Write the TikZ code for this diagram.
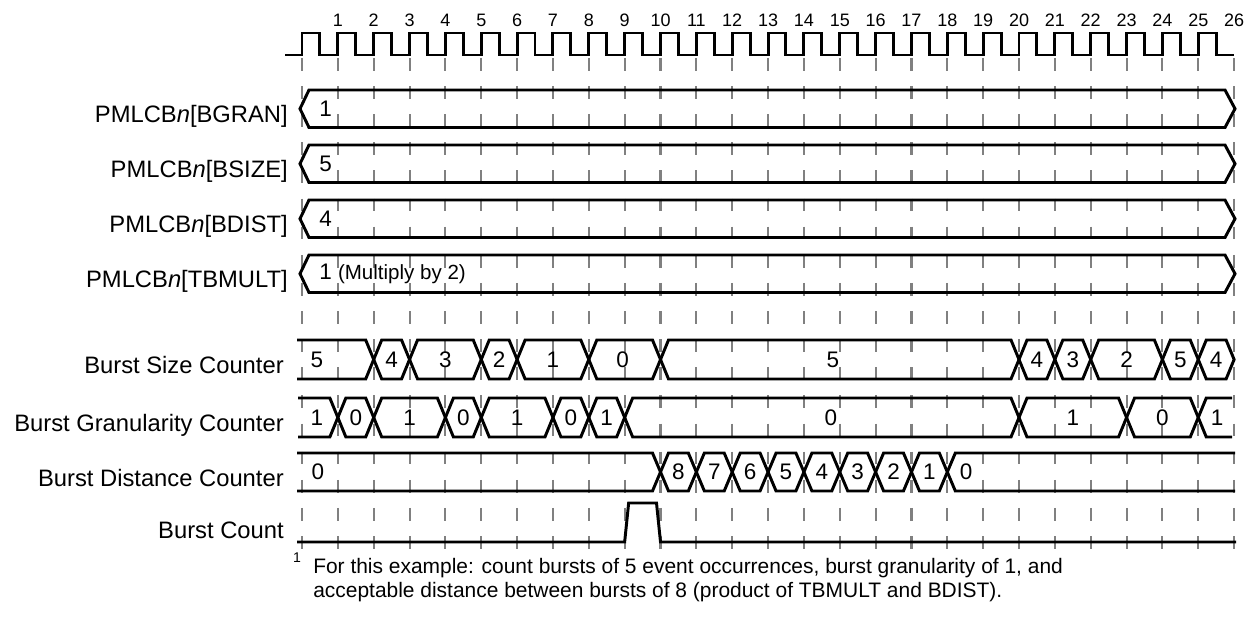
\documentclass[tikz,border=0pt]{standalone}
\usepackage{fontspec}
\setmainfont{Liberation Sans}
\usetikzlibrary{positioning}

\begin{document}
\begin{tikzpicture}[
  x=0.025cm, y=-0.025cm,
  declare function={gx(\k)=302+35.85*\k;},
  sig/.style={line width=2.1pt, line join=miter},
  gridln/.style={draw=gray, line width=1.5pt, dash pattern=on 9pt off 11pt},
  lbl/.style={anchor=base east, inner sep=0pt, font=\fontsize{16.9}{20}\selectfont},
  val/.style={inner sep=0pt, font=\fontsize{16}{19}\selectfont},
  clk/.style={inner sep=0pt, font=\fontsize{12.8}{15}\selectfont},
  note/.style={anchor=base west, inner sep=0pt, font=\fontsize{14.9}{18}\selectfont}
]
\useasboundingbox (0,0) rectangle (1246,630);

% grid and clock
\foreach \k in {0,...,26}
  \draw[gridln] ({gx(\k)},58) -- ({gx(\k)},563);
\foreach \k in {1,...,26}
  \node[clk] (num\k) at ({gx(\k)},20) {\k};
\draw[sig] (285,55) \foreach \k in {0,...,25} {
    -- ({gx(\k)},55) -- ({gx(\k)},33) -- ({gx(\k)+17.9},33) -- ({gx(\k)+17.9},55) }
  -- ({gx(26)},55);

% register fields
\foreach \ym/\reg/\v [count=\i] in {108.75/BGRAN/1, 163.75/BSIZE/5, 218.75/BDIST/4,
    273.75/TBMULT/{1 {\fontsize{14.6}{17}\selectfont(Multiply by 2)}}} {
  \node[lbl] (reg\i) at (288,\ym+14) {PMLCB\textit{n}[\reg]};
  \draw[sig] (300,\ym) -- (309,\ym-18.75) -- (1225,\ym-18.75) -- (1235,\ym)
    -- (1225,\ym+18.75) -- (309,\ym+18.75) -- cycle;
  \node[val, anchor=west] (regv\i) at (319,\ym) {\v};
}

% counters
\node[lbl] (size) at (284,373.5) {Burst Size Counter};
\node[lbl] (gran) at (284,431.5) {Burst Granularity Counter};
\node[lbl] (dist) at (284,486) {Burst Distance Counter};
\node[lbl] (cnt) at (284,538) {Burst Count};

% burst size counter
\draw[sig] (297,340) -- ({gx(2)-8},340) -- ({gx(2)},359.5) -- ({gx(2)-8},379) -- (297,379);
\node[val] (sz0) at (317,359.5) {5};
\foreach \a/\b/\v/\dx [count=\i] in {2/3/4/0, 3/5/3/0, 5/6/2/0, 6/8/1/0, 8/10/0/-2,
    10/20/5/-7, 20/21/4/0, 21/22/3/0, 22/24/2/0, 24/25/5/0, 25/26/4/0} {
  \draw[sig] ({gx(\a)},359.5) -- ({gx(\a)+8},340) -- ({gx(\b)-8},340) -- ({gx(\b)},359.5)
    -- ({gx(\b)-8},379) -- ({gx(\a)+8},379) -- cycle;
  \node[val] (sz\i) at ({(gx(\a)+gx(\b))/2+\dx},359.5) {\v};
}

% burst granularity counter
\draw[sig] (298,398) -- ({gx(1)-8},398) -- ({gx(1)},417.5) -- ({gx(1)-8},437) -- (298,437);
\node[val] (gr0) at (317,417.5) {1};
\foreach \a/\b/\v/\dx [count=\i] in {1/2/0/0, 2/4/1/0, 4/5/0/0, 5/7/1/0, 7/8/0/0,
    8/9/1/0, 9/20/0/9, 20/23/1/0, 23/25/0/0} {
  \draw[sig] ({gx(\a)},417.5) -- ({gx(\a)+8},398) -- ({gx(\b)-8},398) -- ({gx(\b)},417.5)
    -- ({gx(\b)-8},437) -- ({gx(\a)+8},437) -- cycle;
  \node[val] (gr\i) at ({(gx(\a)+gx(\b))/2+\dx},417.5) {\v};
}
\draw[sig] (1232,398) -- ({gx(25)+8},398) -- ({gx(25)},417.5) -- ({gx(25)+8},437) -- (1232,437);
\node[val] (grz) at (1217,417.5) {1};

% burst distance counter
\draw[sig] (297,453) -- ({gx(10)-8},453) -- ({gx(10)},472) -- ({gx(10)-8},491) -- (297,491);
\node[val] (ds0) at (318,472) {0};
\foreach \a/\v [count=\i] in {10/8, 11/7, 12/6, 13/5, 14/4, 15/3, 16/2, 17/1} {
  \draw[sig] ({gx(\a)},472) -- ({gx(\a)+8},453) -- ({gx(\a+1)-8},453) -- ({gx(\a+1)},472)
    -- ({gx(\a+1)-8},491) -- ({gx(\a)+8},491) -- cycle;
  \node[val] (ds\i) at ({gx(\a)+17.9},472) {\v};
}
\draw[sig] (1235,453) -- ({gx(18)+8},453) -- ({gx(18)},472) -- ({gx(18)+8},491) -- (1235,491);
\node[val] (dsz) at (966,472) {0};

% burst count
\draw[sig] (297,542) -- ({gx(9)},542) -- ({gx(9)+4},503) -- ({gx(10)-4},503)
  -- ({gx(10)},542) -- (1236,542);

% footnote
\node[anchor=base, inner sep=0pt, font=\fontsize{10}{12}\selectfont] (fnmark) at (297,562) {1};
\node[note] (fn1) at (313,573) {For this example: count bursts of 5 event occurrences, burst granularity of 1, and};
\node[note] (fn2) at (313,597) {acceptable distance between bursts of 8 (product of TBMULT and BDIST).};
\end{tikzpicture}
\end{document}
